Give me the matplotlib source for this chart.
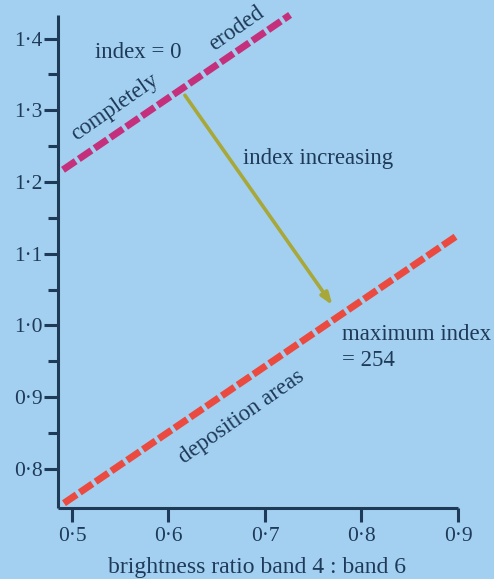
import matplotlib
matplotlib.use("Agg")
import matplotlib.pyplot as plt
from matplotlib.ticker import FixedLocator

# ---- data ----
x_ticks = [0.5, 0.6, 0.7, 0.8, 0.9]
x_tick_labels = ["0·5", "0·6", "0·7", "0·8", "0·9"]
y_ticks = [0.8, 0.9, 1.0, 1.1, 1.2, 1.3, 1.4]
y_tick_labels = ["0·8", "0·9", "1·0", "1·1", "1·2", "1·3", "1·4"]
y_minor_ticks = [0.85, 0.95, 1.05, 1.15, 1.25, 1.35]

eroded_x = [0.4907, 0.726]
eroded_y = [1.217, 1.433]
deposition_x = [0.4917, 0.900]
deposition_y = [0.752, 1.126]
arrow_start = (0.617, 1.321)
arrow_end = (0.770, 1.028)

x_label = "brightness ratio band 4 : band 6"

# ---- style ----
bg = "#a3d0f0"
ink = "#1f3a58"
serif = ["Liberation Serif", "DejaVu Serif"]

W, H = 494, 579
fig = plt.figure(figsize=(W / 100, H / 100), dpi=100)
fig.patch.set_facecolor(bg)
ax = fig.add_axes([58 / W, (H - 508) / H, 400 / W, (508 - 15) / H])
ax.set_facecolor(bg)

ax.set_xlim(0.4855, 0.9)
ax.set_ylim(0.7453, 1.4329)


def px(x_pixel):
    return 0.5 + (x_pixel - 72) / 965


def py(y_pixel):
    return 1.2 + (182 - y_pixel) / 717


for s in ["top", "right"]:
    ax.spines[s].set_visible(False)
for s in ["left", "bottom"]:
    ax.spines[s].set_color(ink)
    ax.spines[s].set_linewidth(2.2)
    ax.spines[s].set_capstyle("butt")

ax.xaxis.set_major_locator(FixedLocator(x_ticks))
ax.set_xticklabels(x_tick_labels)
ax.yaxis.set_major_locator(FixedLocator(y_ticks))
ax.set_yticklabels(y_tick_labels)
ax.yaxis.set_minor_locator(FixedLocator(y_minor_ticks))

ax.tick_params(axis="x", which="major", direction="out", length=10, width=2.2,
               color=ink, labelcolor=ink, pad=4)
ax.tick_params(axis="y", which="major", direction="out", length=10, width=2.2,
               color=ink, labelcolor=ink, pad=1)
ax.tick_params(axis="y", which="minor", direction="out", length=7, width=2.2,
               color=ink)
for lbl in ax.get_xticklabels() + ax.get_yticklabels():
    lbl.set_fontfamily(serif)
    lbl.set_fontsize(15.5)

ax.plot(eroded_x, eroded_y, color="#c4307c", lw=5, dashes=(2.2, 0.55),
        solid_capstyle="butt", dash_capstyle="butt", clip_on=False)
ax.plot(deposition_x, deposition_y, color="#ea4a40", lw=5, dashes=(2.2, 0.55),
        solid_capstyle="butt", dash_capstyle="butt", clip_on=False)

ax.annotate("", xy=arrow_end, xytext=arrow_start,
            arrowprops=dict(arrowstyle="-|>,head_length=0.7,head_width=0.25",
                            color="#a8a83a", lw=2.6, shrinkA=0, shrinkB=0))

tkw = dict(color=ink, fontfamily=serif, fontsize=16.5)
ax.text(px(138), py(53), "index = 0", ha="center", va="center", **tkw)
ax.text(px(115), py(107), "completely", ha="center", va="center",
        rotation=35, rotation_mode="anchor", **tkw)
ax.text(px(237), py(29), "eroded", ha="center", va="center",
        rotation=35, rotation_mode="anchor", **tkw)
ax.text(px(243), py(159), "index increasing", ha="left", va="center", **tkw)
ax.text(px(342), py(335), "maximum index", ha="left", va="center", **tkw)
ax.text(px(342), py(361), "= 254", ha="left", va="center", **tkw)
ax.text(px(242), py(417), "deposition areas", ha="center", va="center",
        rotation=35, rotation_mode="anchor", **tkw)

ax.text(px(257), py(568), x_label, ha="center", va="center",
        color=ink, fontfamily=serif, fontsize=17)

fig.savefig("out.png", dpi=100, facecolor=bg)
